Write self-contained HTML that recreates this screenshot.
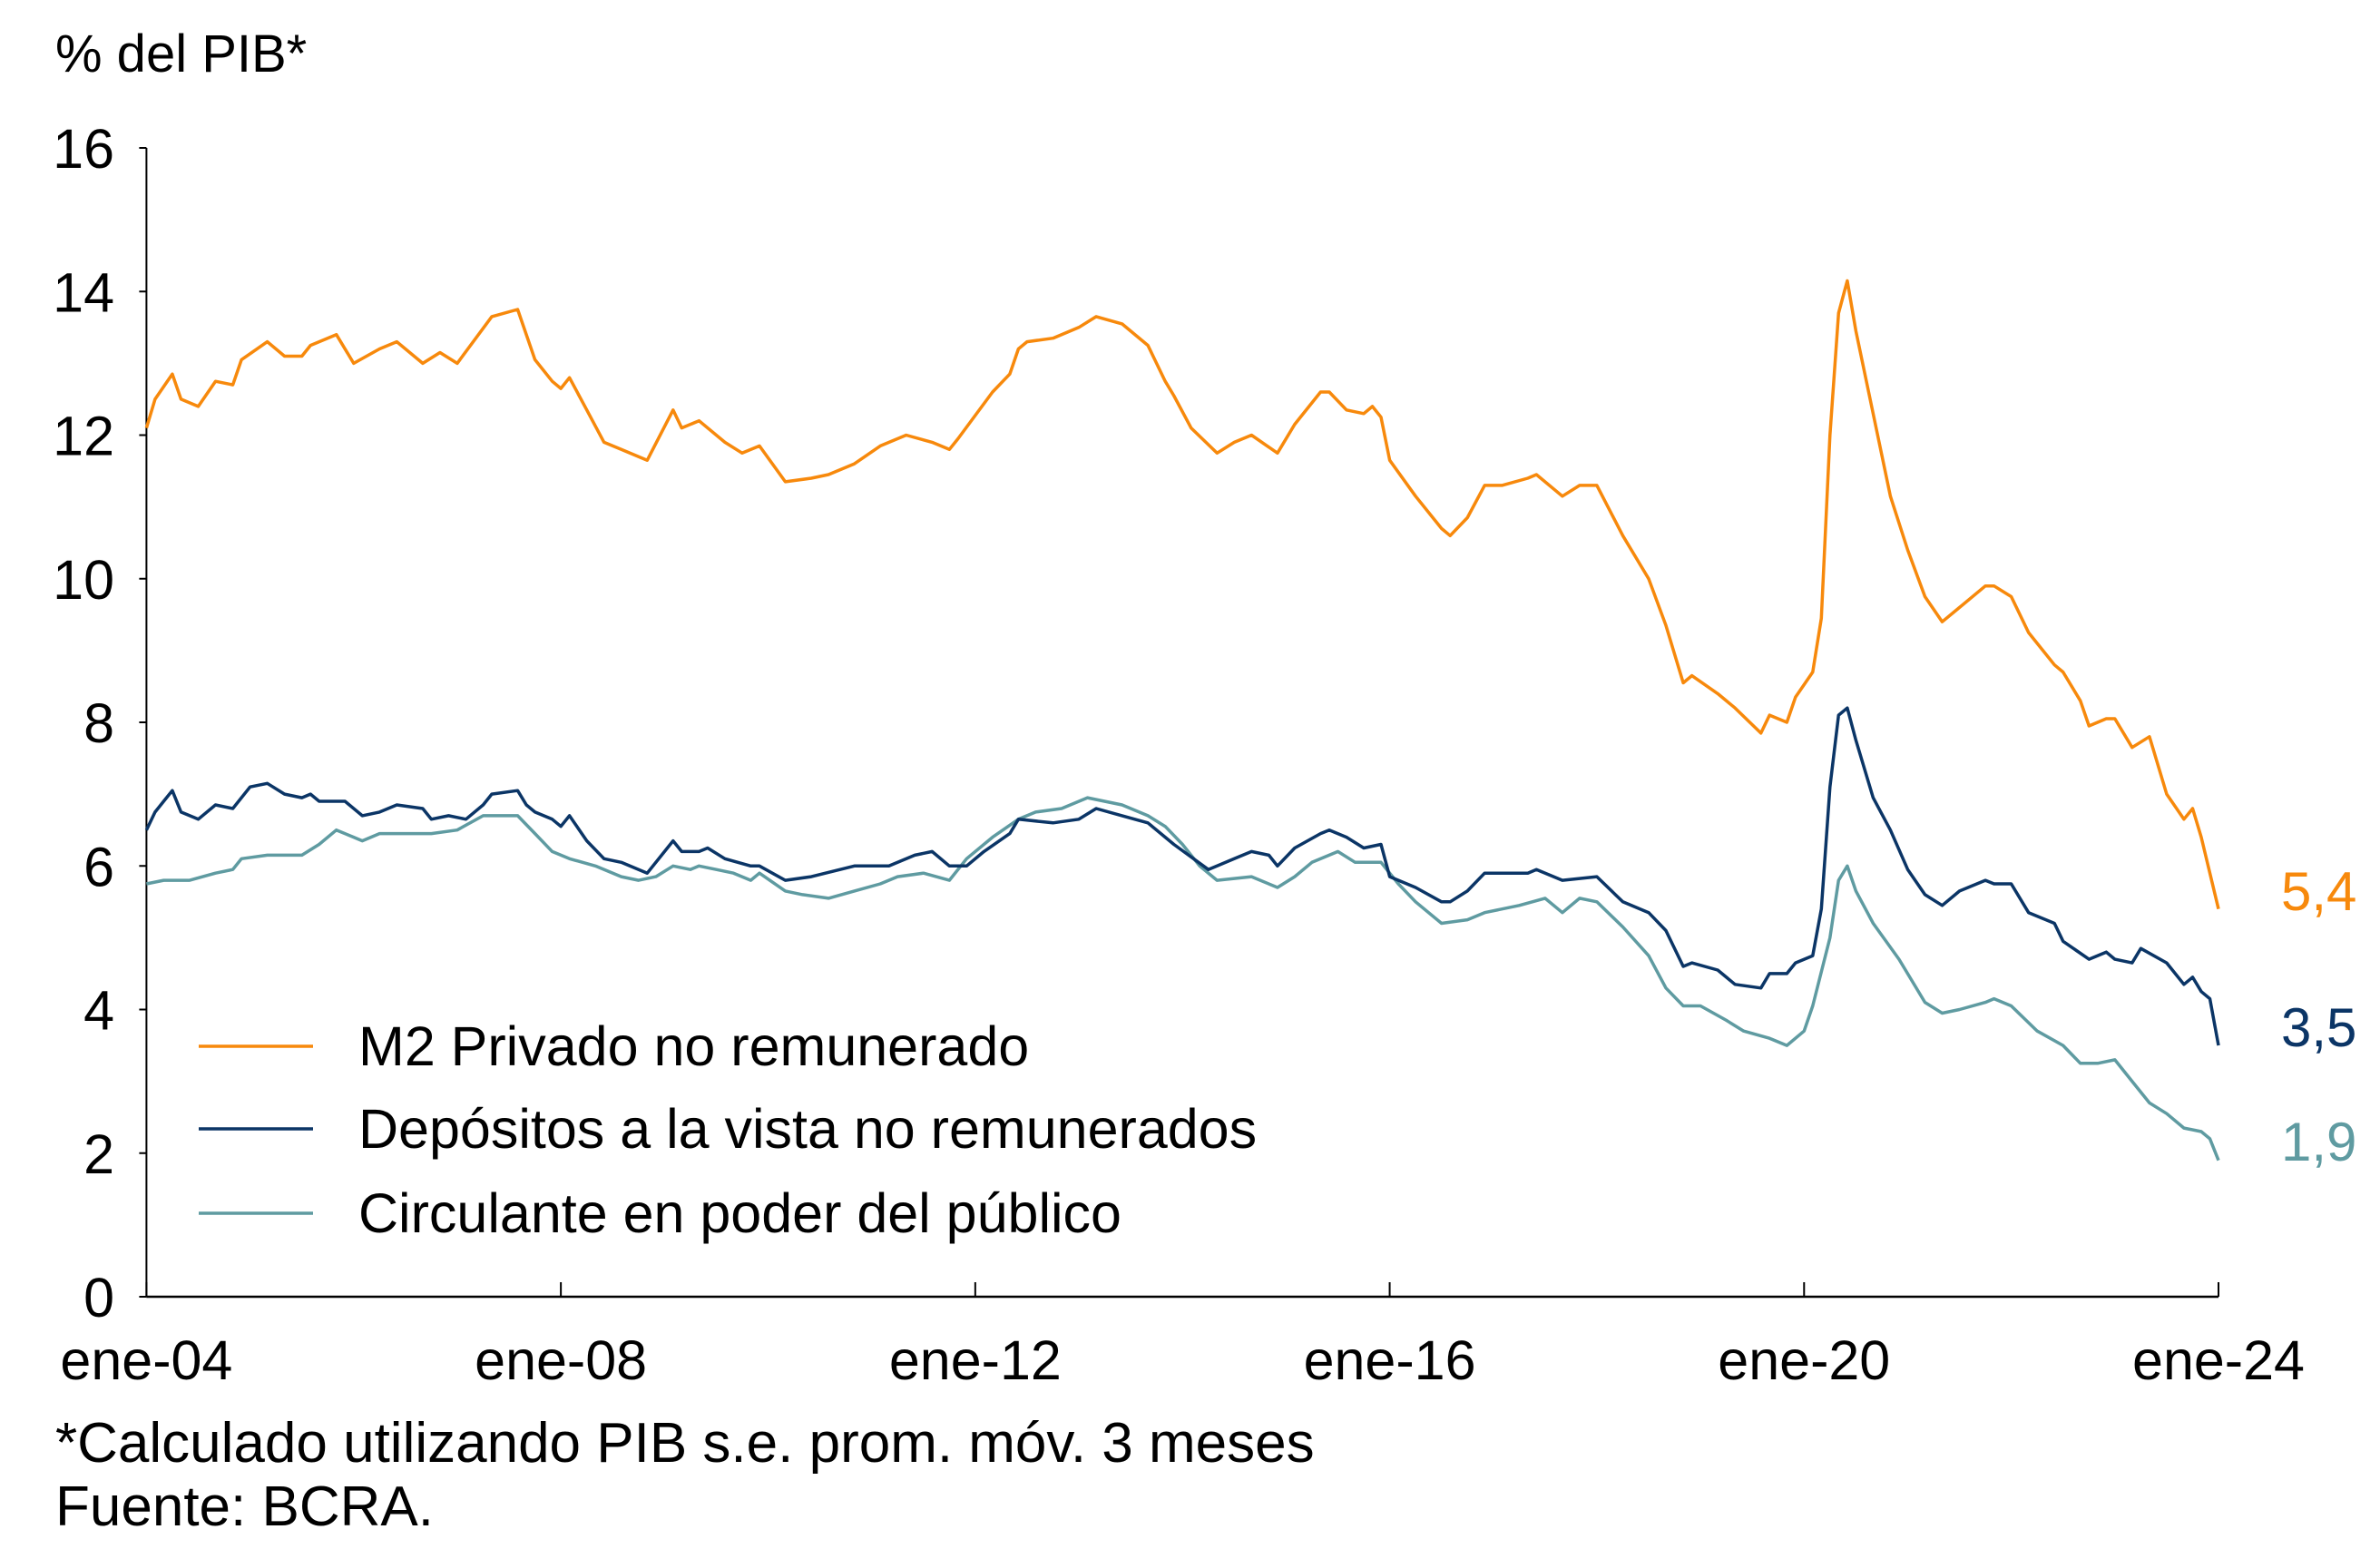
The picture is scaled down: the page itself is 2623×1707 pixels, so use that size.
<!DOCTYPE html>
<html><head><meta charset="utf-8"><style>
html,body{margin:0;padding:0;background:#fff;}
svg{display:block;font-family:"Liberation Sans",sans-serif;}
</style></head><body>
<svg id="chart" width="2623" height="1707" viewBox="0 0 2623 1707" xmlns="http://www.w3.org/2000/svg">
<text x="61" y="79" font-size="58" fill="#000">% del PIB*</text>
<g id="axes"></g>
<g id="series"></g>
<g>
<line x1="219" y1="1153" x2="345" y2="1153" stroke="#F7890C" stroke-width="3.5"/>
<text x="395" y="1174" font-size="61" fill="#000">M2 Privado no remunerado</text>
<line x1="219" y1="1244" x2="345" y2="1244" stroke="#0B3566" stroke-width="3.5"/>
<text x="395" y="1265" font-size="61" fill="#000">Depósitos a la vista no remunerados</text>
<line x1="219" y1="1337" x2="345" y2="1337" stroke="#5F9BA1" stroke-width="3.5"/>
<text x="395" y="1358" font-size="61" fill="#000">Circulante en poder del público</text>
</g>
<text x="2514" y="1003" font-size="60" fill="#F7890C">5,4</text>
<text x="2514" y="1153" font-size="60" fill="#0B3566">3,5</text>
<text x="2514" y="1279" font-size="60" fill="#5F9BA1">1,9</text>
<text x="61" y="1611" font-size="62" fill="#000">*Calculado utilizando PIB s.e. prom. móv. 3 meses</text>
<text x="61" y="1681" font-size="62" fill="#000">Fuente: BCRA.</text>
</svg>
<script>
const xTickLabels = ["ene-04","ene-08","ene-12","ene-16","ene-20","ene-24"];
const xTickMonths = [0,48,96,144,192,240];
const yTicks = [0,2,4,6,8,10,12,14,16];
const yTickLabels = ["0","2","4","6","8","10","12","14","16"];

const m2Months = [0,1,3,4,6,8,10,11,14,16,18,19,22,24,27,29,32,34,36,40,43,45,47,48,49,51,53,55,58,61,62,64,67,69,71,74,77,79,82,85,88,91,93,94,98,100,101,102,105,108,110,113,116,118,119,121,124,126,128,131,133,136,137,139,141,142,143,144,147,150,151,153,155,157,160,161,164,166,168,171,174,176,178,179,182,184,187,188,190,191,193,194,195,196,197,198,200,202,204,206,208,210,213,214,216,218,221,222,224,225,227,228,230,232,234,236,237,238,240];
const m2Values = [12.1,12.5,12.85,12.5,12.4,12.75,12.7,13.05,13.3,13.1,13.1,13.25,13.4,13.0,13.2,13.3,13.0,13.15,13.0,13.65,13.75,13.05,12.75,12.65,12.8,12.35,11.9,11.8,11.65,12.35,12.1,12.2,11.9,11.75,11.85,11.35,11.4,11.45,11.6,11.85,12.0,11.9,11.8,11.95,12.6,12.85,13.2,13.3,13.35,13.5,13.65,13.55,13.25,12.75,12.55,12.1,11.75,11.9,12.0,11.75,12.15,12.6,12.6,12.35,12.3,12.4,12.25,11.65,11.15,10.7,10.6,10.85,11.3,11.3,11.4,11.45,11.15,11.3,11.3,10.6,10.0,9.35,8.55,8.65,8.4,8.2,7.85,8.1,8.0,8.35,8.7,9.45,12.0,13.7,14.15,13.45,12.3,11.15,10.4,9.75,9.4,9.6,9.9,9.9,9.75,9.25,8.8,8.7,8.3,7.95,8.05,8.05,7.65,7.8,7.0,6.65,6.8,6.4,5.4];

const depMonths = [0,1,2,3,4,6,8,10,12,14,16,18,19,20,23,25,27,29,32,33,35,37,39,40,43,44,45,47,48,49,51,53,55,58,61,62,64,65,67,70,71,74,77,82,86,89,91,93,95,97,100,101,105,108,110,113,116,118,119,123,124,126,128,130,131,133,136,137,139,141,143,144,147,150,151,153,155,157,160,161,164,168,171,174,176,178,179,182,184,187,188,190,191,193,194,195,196,197,198,200,202,204,206,208,210,213,214,216,218,221,222,225,227,228,230,231,234,236,237,238,239,240];
const depValues = [6.5,6.75,6.9,7.05,6.75,6.65,6.85,6.8,7.1,7.15,7.0,6.95,7.0,6.9,6.9,6.7,6.75,6.85,6.8,6.65,6.7,6.65,6.85,7.0,7.05,6.85,6.75,6.65,6.55,6.7,6.35,6.1,6.05,5.9,6.35,6.2,6.2,6.25,6.1,6.0,6.0,5.8,5.85,6.0,6.0,6.15,6.2,6.0,6.0,6.2,6.45,6.65,6.6,6.65,6.8,6.7,6.6,6.4,6.3,5.95,6.0,6.1,6.2,6.15,6.0,6.25,6.45,6.5,6.4,6.25,6.3,5.85,5.7,5.5,5.5,5.65,5.9,5.9,5.9,5.95,5.8,5.85,5.5,5.35,5.1,4.6,4.65,4.55,4.35,4.3,4.5,4.5,4.65,4.75,5.4,7.1,8.1,8.2,7.75,6.95,6.5,5.95,5.6,5.45,5.65,5.8,5.75,5.75,5.35,5.2,4.95,4.7,4.8,4.7,4.65,4.85,4.65,4.35,4.45,4.25,4.15,3.5];

const circMonths = [0,2,5,8,10,11,14,17,18,20,22,24,25,27,30,33,36,39,41,43,45,47,49,52,55,57,59,61,63,64,66,68,70,71,74,76,79,82,85,87,90,93,95,98,101,103,106,109,113,116,118,120,122,124,128,131,133,135,138,140,143,145,147,150,153,155,159,162,164,166,168,171,174,176,178,180,183,185,188,190,192,193,195,196,197,198,200,203,206,208,210,213,214,216,219,222,224,226,228,230,232,234,236,238,239,240];
const circValues = [5.75,5.8,5.8,5.9,5.95,6.1,6.15,6.15,6.15,6.3,6.5,6.4,6.35,6.45,6.45,6.45,6.5,6.7,6.7,6.7,6.45,6.2,6.1,6.0,5.85,5.8,5.85,6.0,5.95,6.0,5.95,5.9,5.8,5.9,5.65,5.6,5.55,5.65,5.75,5.85,5.9,5.8,6.1,6.4,6.65,6.75,6.8,6.95,6.85,6.7,6.55,6.3,6.0,5.8,5.85,5.7,5.85,6.05,6.2,6.05,6.05,5.75,5.5,5.2,5.25,5.35,5.45,5.55,5.35,5.55,5.5,5.15,4.75,4.3,4.05,4.05,3.85,3.7,3.6,3.5,3.7,4.05,5.0,5.8,6.0,5.65,5.2,4.7,4.1,3.95,4.0,4.1,4.15,4.05,3.7,3.5,3.25,3.25,3.3,3.0,2.7,2.55,2.35,2.3,2.2,1.9];

const NS = "http://www.w3.org/2000/svg";
const X0 = 161.4, X1 = 2445, Y0 = 1429, Y16 = 163;
function xScale(m){ return X0 + (X1 - X0) * m / 240; }
function yScale(v){ return Y0 - (Y0 - Y16) * v / 16; }
function mk(tag, attrs, parent){ const e = document.createElementNS(NS, tag); for (const k in attrs) e.setAttribute(k, attrs[k]); parent.appendChild(e); return e; }

const axes = document.getElementById('axes');
const yAxis = mk('line', {x1:X0, y1:Y16, x2:X0, y2:Y0, stroke:'#000', 'stroke-width':2}, axes);


const xAxis = mk('line', {x1:X0, y1:Y0, x2:X1, y2:Y0, stroke:'#000', 'stroke-width':2.5}, axes);


yTicks.forEach((v, i) => {
  const y = yScale(v);
  const t = mk('line', {x1:X0 - 8, y1:y, x2:X0, y2:y, stroke:'#000', 'stroke-width':2}, axes);
  
  
  const lb = mk('text', {x:126, y:y + 22, 'font-size':61, 'text-anchor':'end', fill:'#000'}, axes);
  lb.textContent = yTickLabels[i];
  
  
});
xTickMonths.forEach((m, i) => {
  const x = xScale(m);
  const t = mk('line', {x1:x, y1:Y0 - 16, x2:x, y2:Y0, stroke:'#000', 'stroke-width':2}, axes);
  
  
  const lb = mk('text', {x:x, y:1520, 'font-size':61, 'text-anchor':'middle', fill:'#000'}, axes);
  lb.textContent = xTickLabels[i];
  
  
});

const series = document.getElementById('series');
function drawLine(months, vals, color, name){
  const d = months.map((m, i) => (i ? 'L' : 'M') + xScale(m).toFixed(1) + ',' + yScale(vals[i]).toFixed(1)).join(' ');
  const p = mk('path', {d:d, fill:'none', stroke:color, 'stroke-width':3.5, 'stroke-linejoin':'round'}, series);
  
  
}
drawLine(circMonths, circValues, '#5F9BA1', 'line-circulante');
drawLine(depMonths, depValues, '#0B3566', 'line-depositos');
drawLine(m2Months, m2Values, '#F7890C', 'line-m2-privado');
</script>
</body></html>
